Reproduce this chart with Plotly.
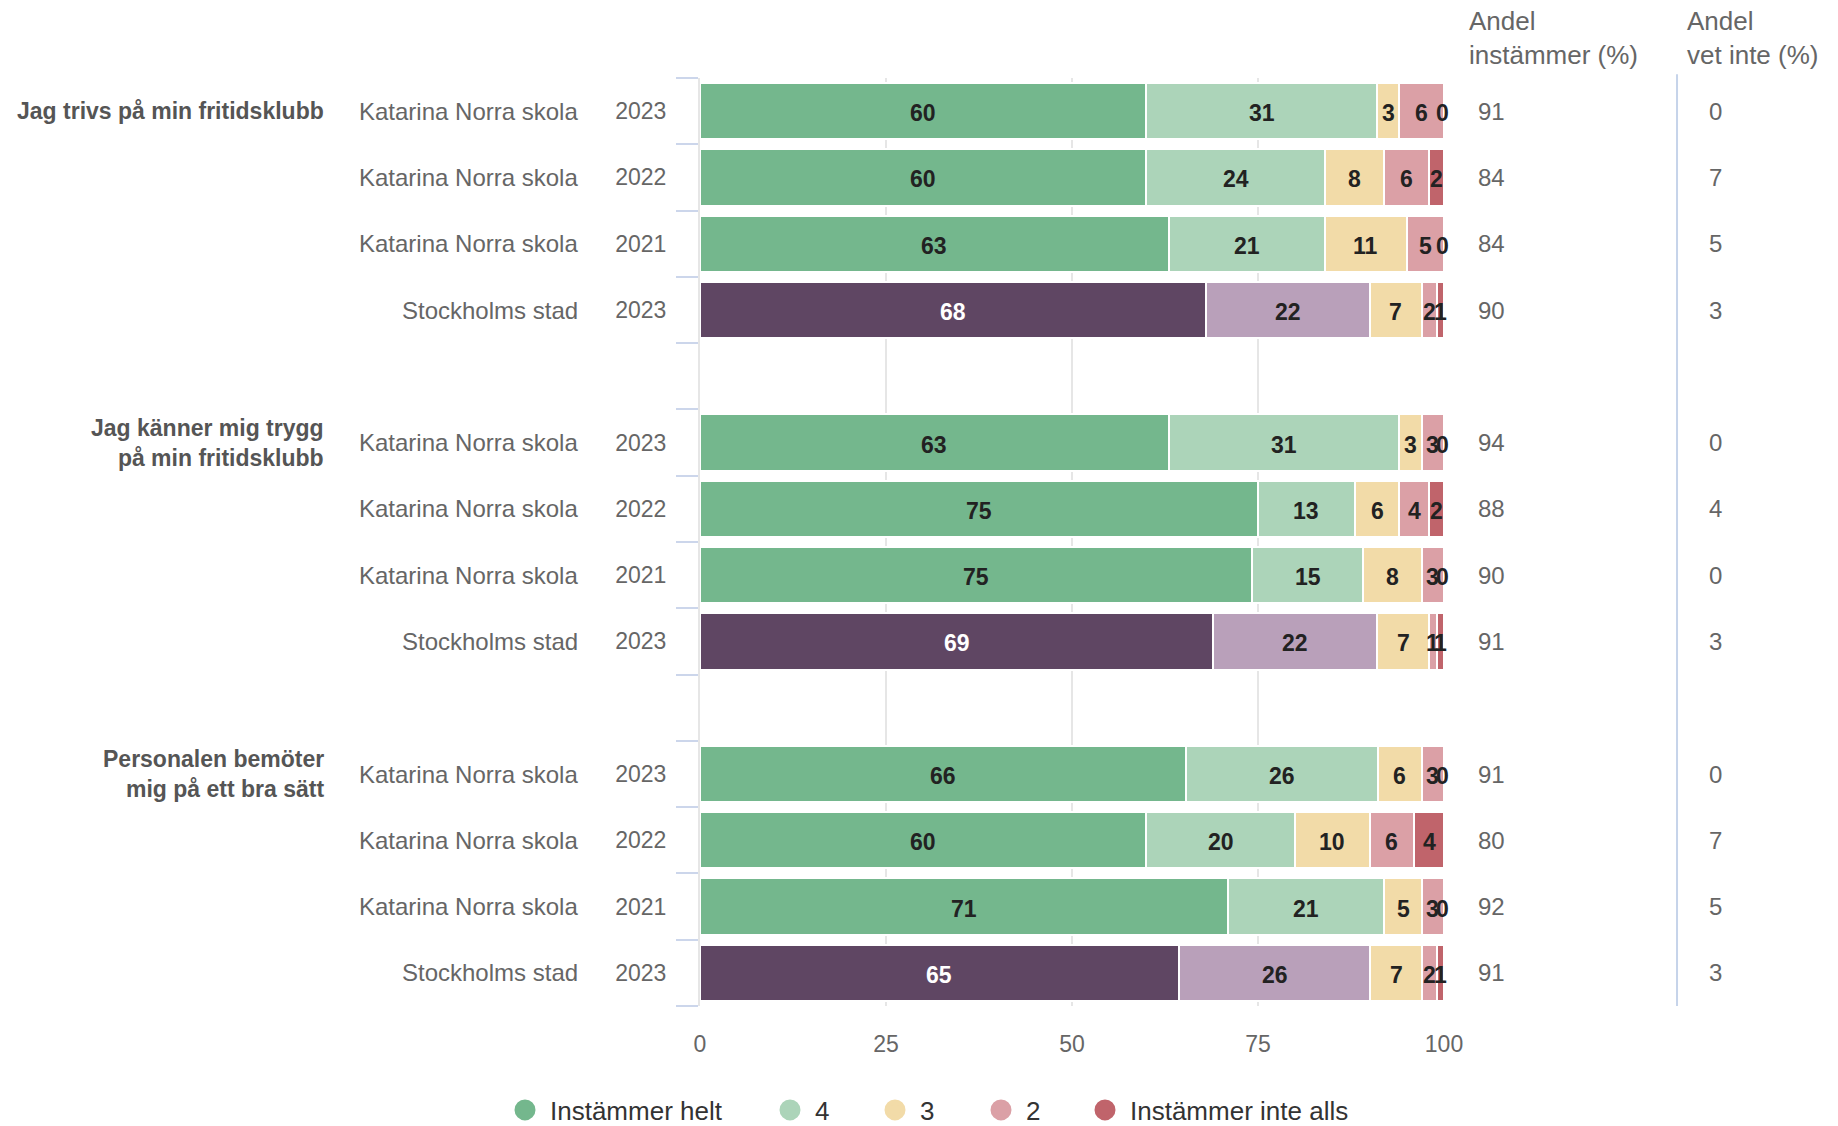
import plotly.graph_objects as go

# ---------------- data ----------------
questions = ["Jag trivs på min fritidsklubb",
             "Jag känner mig trygg<br>på min fritidsklubb",
             "Personalen bemöter<br>mig på ett bra sätt"]
units = ["Katarina Norra skola", "Katarina Norra skola", "Katarina Norra skola", "Stockholms stad"]
years = ["2023", "2022", "2021", "2023"]

series_names = ["Instämmer helt", "4", "3", "2", "Instämmer inte alls"]
helt = [60, 60, 63, 68, 63, 75, 75, 69, 66, 60, 71, 65]
four = [31, 24, 21, 22, 31, 13, 15, 22, 26, 20, 21, 26]
three = [3, 8, 11, 7, 3, 6, 8, 7, 6, 10, 5, 7]
two = [6, 6, 5, 2, 3, 4, 3, 1, 3, 6, 3, 2]
inte = [0, 2, 0, 1, 0, 2, 0, 1, 0, 4, 0, 1]
andel_instammer = [91, 84, 84, 90, 94, 88, 90, 91, 91, 80, 92, 91]
andel_vet_inte = [0, 7, 5, 3, 0, 4, 0, 3, 0, 7, 5, 3]

# ---------------- styling ----------------
colors_ks = ["#74b78d", "#acd4b9", "#f2dba8", "#dba0a6", "#c0646b"]
colors_sthlm = ["#5f4663", "#b9a0ba", "#f2dba8", "#dba0a6", "#c0646b"]
FONT = "Liberation Sans, Arial, sans-serif"
GREY = "#666666"

series = [helt, four, three, two, inte]
n_rows = 14
row_ids = [f"r{i}" for i in range(n_rows)]
# map data index -> row position (blank row between groups)
pos_of = [g * 5 + r for g in range(3) for r in range(4)]

fig = go.Figure()

for k, (name, vals) in enumerate(zip(series_names, series)):
    xs = [None] * n_rows
    cols = ["#ffffff"] * n_rows
    for i, p in enumerate(pos_of):
        xs[p] = vals[i]
        cols[p] = colors_sthlm[k] if units[i % 4] == "Stockholms stad" else colors_ks[k]
    fig.add_trace(go.Bar(
        y=row_ids, x=xs, orientation="h", name=name,
        marker=dict(color=cols, line=dict(color="#ffffff", width=2)),
        showlegend=False, hoverinfo="skip"))

# legend entries (circles), each in its own legend for exact placement
legend_x = [500, 765, 870, 976, 1080]
for k, name in enumerate(series_names):
    lg = "legend" if k == 0 else f"legend{k+1}"
    fig.add_trace(go.Scatter(
        x=[None], y=[None], mode="markers", name=name, legend=lg,
        marker=dict(symbol="circle", size=16, color=colors_ks[k],
                    line=dict(color=colors_ks[k], width=5)),
        hoverinfo="skip"))

annotations = []
# bar labels
for i, p in enumerate(pos_of):
    vals = [s[i] for s in series]
    tot = sum(vals)
    cum = 0
    for k, v in enumerate(vals):
        start = cum / tot * 100
        cum += v
        end = cum / tot * 100
        is_sthlm = units[i % 4] == "Stockholms stad"
        col = "#ffffff" if (is_sthlm and k == 0) else "#222222"
        annotations.append(dict(
            x=(start + end) / 2 if v > 0 else end, y=row_ids[p], xref="x", yref="y",
            text=str(v), showarrow=False, xshift=0 if v > 0 else -2, yshift=-2,
            font=dict(family=FONT, size=23, color=col, weight="bold")))
    # unit names
    annotations.append(dict(
        x=-0.1613, y=row_ids[p], xref="paper", yref="y", xanchor="right",
        text=units[i % 4], showarrow=False,
        font=dict(family=FONT, size=24, color=GREY)))
    # right columns
    annotations.append(dict(
        x=1.0430, y=row_ids[p], xref="paper", yref="y", xanchor="left",
        text=str(andel_instammer[i]), showarrow=False,
        font=dict(family=FONT, size=24, color=GREY)))
    annotations.append(dict(
        x=1.3535, y=row_ids[p], xref="paper", yref="y", xanchor="left",
        text=str(andel_vet_inte[i]), showarrow=False,
        font=dict(family=FONT, size=24, color=GREY)))

# question labels
for g, q in enumerate(questions):
    annotations.append(dict(
        x=-0.5027, y=row_ids[g * 5], xref="paper", yref="y", xanchor="right",
        text=q, showarrow=False, align="right",
        font=dict(family=FONT, size=23, color="#555555", weight="bold")))

# column headers
for xh, txt in [(1.0309, "Andel<br>instämmer (%)"), (1.3239, "Andel<br>vet inte (%)")]:
    annotations.append(dict(
        x=xh, y=1.080, xref="paper", yref="paper", xanchor="left", yanchor="top",
        text=txt, showarrow=False, align="left",
        font=dict(family=FONT, size=26, color=GREY)))

ticktext = [""] * n_rows
for i, p in enumerate(pos_of):
    ticktext[p] = years[i % 4]

layout_legends = {}
for k in range(5):
    key = "legend" if k == 0 else f"legend{k+1}"
    layout_legends[key] = dict(
        orientation="h", xref="container", yref="container",
        x=legend_x[k] / 1838, xanchor="left", y=1 - 1110 / 1126, yanchor="middle",
        font=dict(family=FONT, size=26, color="#333333"),
        bgcolor="rgba(0,0,0,0)", itemwidth=40)

fig.update_layout(
    width=1838, height=1126,
    margin=dict(l=700, r=394, t=78, b=120),
    paper_bgcolor="#ffffff", plot_bgcolor="#ffffff",
    barmode="stack", barnorm="percent", bargap=0.15,
    annotations=annotations,
    shapes=[dict(type="line", xref="paper", yref="paper", x0=1.3132, x1=1.3132,
                 y0=0, y1=1.004, line=dict(color="#c6d4ea", width=2))],
    xaxis=dict(range=[0, 100], tickvals=[0, 25, 50, 75, 100], showgrid=True,
               gridcolor="#e6e6e6", gridwidth=1.5, zeroline=False, showline=False,
               ticks="", ticklabelstandoff=22,
               tickfont=dict(family=FONT, size=23, color=GREY), fixedrange=True),
    yaxis=dict(type="category", categoryorder="array", categoryarray=row_ids,
               range=[n_rows - 0.5, -0.5], tickmode="array", tickvals=row_ids,
               ticktext=ticktext, tickson="boundaries", ticks="outside", ticklen=22,
               tickcolor="#ccd6eb", tickwidth=2, showgrid=False, showline=True,
               linecolor="#e6e6e6", linewidth=2, ticklabelstandoff=27,
               tickfont=dict(family=FONT, size=23, color=GREY), fixedrange=True),
    **layout_legends,
)

fig.write_html("out.html", config={"displayModeBar": False},
               post_script="document.body.style.margin='0';")
